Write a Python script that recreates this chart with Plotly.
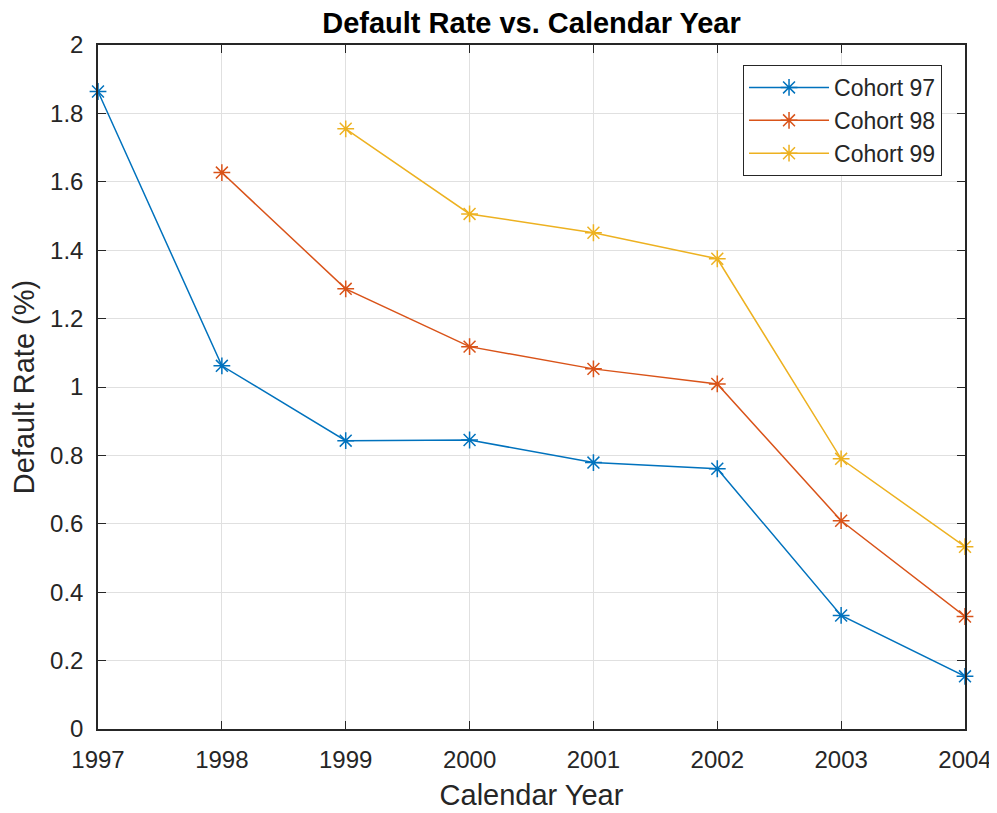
import plotly.graph_objects as go

years = [1997, 1998, 1999, 2000, 2001, 2002, 2003, 2004]
cohort97 = [1.864, 1.062, 0.843, 0.845, 0.779, 0.761, 0.332, 0.154]
cohort98 = [None, 1.627, 1.287, 1.118, 1.053, 1.009, 0.609, 0.329]
cohort99 = [None, None, 1.755, 1.506, 1.451, 1.375, 0.790, 0.533]
names = ["Cohort 97", "Cohort 98", "Cohort 99"]
colors = ["#0072BD", "#D95319", "#EDB120"]
ytick_vals = [0, 0.2, 0.4, 0.6, 0.8, 1, 1.2, 1.4, 1.6, 1.8, 2]
ytick_text = ["0", "0.2", "0.4", "0.6", "0.8", "1", "1.2", "1.4", "1.6", "1.8", "2"]

FONT = "Liberation Sans, Arial, Helvetica"

fig = go.Figure()
for name, vals, c in zip(names, [cohort97, cohort98, cohort99], colors):
    fig.add_trace(go.Scatter(
        x=years, y=vals, name=name, mode="lines+markers",
        line=dict(color=c, width=1.5),
        marker=dict(symbol="asterisk-open", size=14, color=c, line=dict(color=c, width=1.5)),
        cliponaxis=False,
    ))

axis_common = dict(
    showline=True, linecolor="#262626", linewidth=1.5, mirror="all",
    ticks="inside", ticklen=8, tickcolor="#262626", tickwidth=1.2,
    showgrid=True, gridcolor="#E0E0E0", gridwidth=1, zeroline=False,
    tickfont=dict(family=FONT, size=24, color="#262626"),
)

fig.update_layout(
    width=997, height=813,
    paper_bgcolor="white", plot_bgcolor="white",
    margin=dict(l=90, r=40, t=37, b=92),
    title=dict(text="<b>Default Rate vs. Calendar Year</b>", x=0.5, xref="paper", xanchor="center",
               y=1 - 15 / 813, yref="container", yanchor="middle",
               font=dict(family=FONT, size=29, color="black")),
    xaxis=dict(range=[1997, 2004], tickvals=years, ticktext=[str(y) for y in years],
               ticklabelstandoff=8,
               title=dict(text="Calendar Year", standoff=13,
                          font=dict(family=FONT, size=29, color="#262626")),
               **axis_common),
    yaxis=dict(range=[0, 2], tickvals=ytick_vals, ticktext=ytick_text,
               ticklabelstandoff=8,
               title=dict(text="Default Rate (%)", standoff=9,
                          font=dict(family=FONT, size=29, color="#262626")),
               **axis_common),
    legend=dict(x=0.9735, y=0.9708, xanchor="right", yanchor="top",
                bgcolor="white", bordercolor="#262626", borderwidth=1,
                font=dict(family=FONT, size=23, color="#262626"),
                itemwidth=80, tracegroupgap=0),
    showlegend=True,
)

fig.write_html("out.html")
